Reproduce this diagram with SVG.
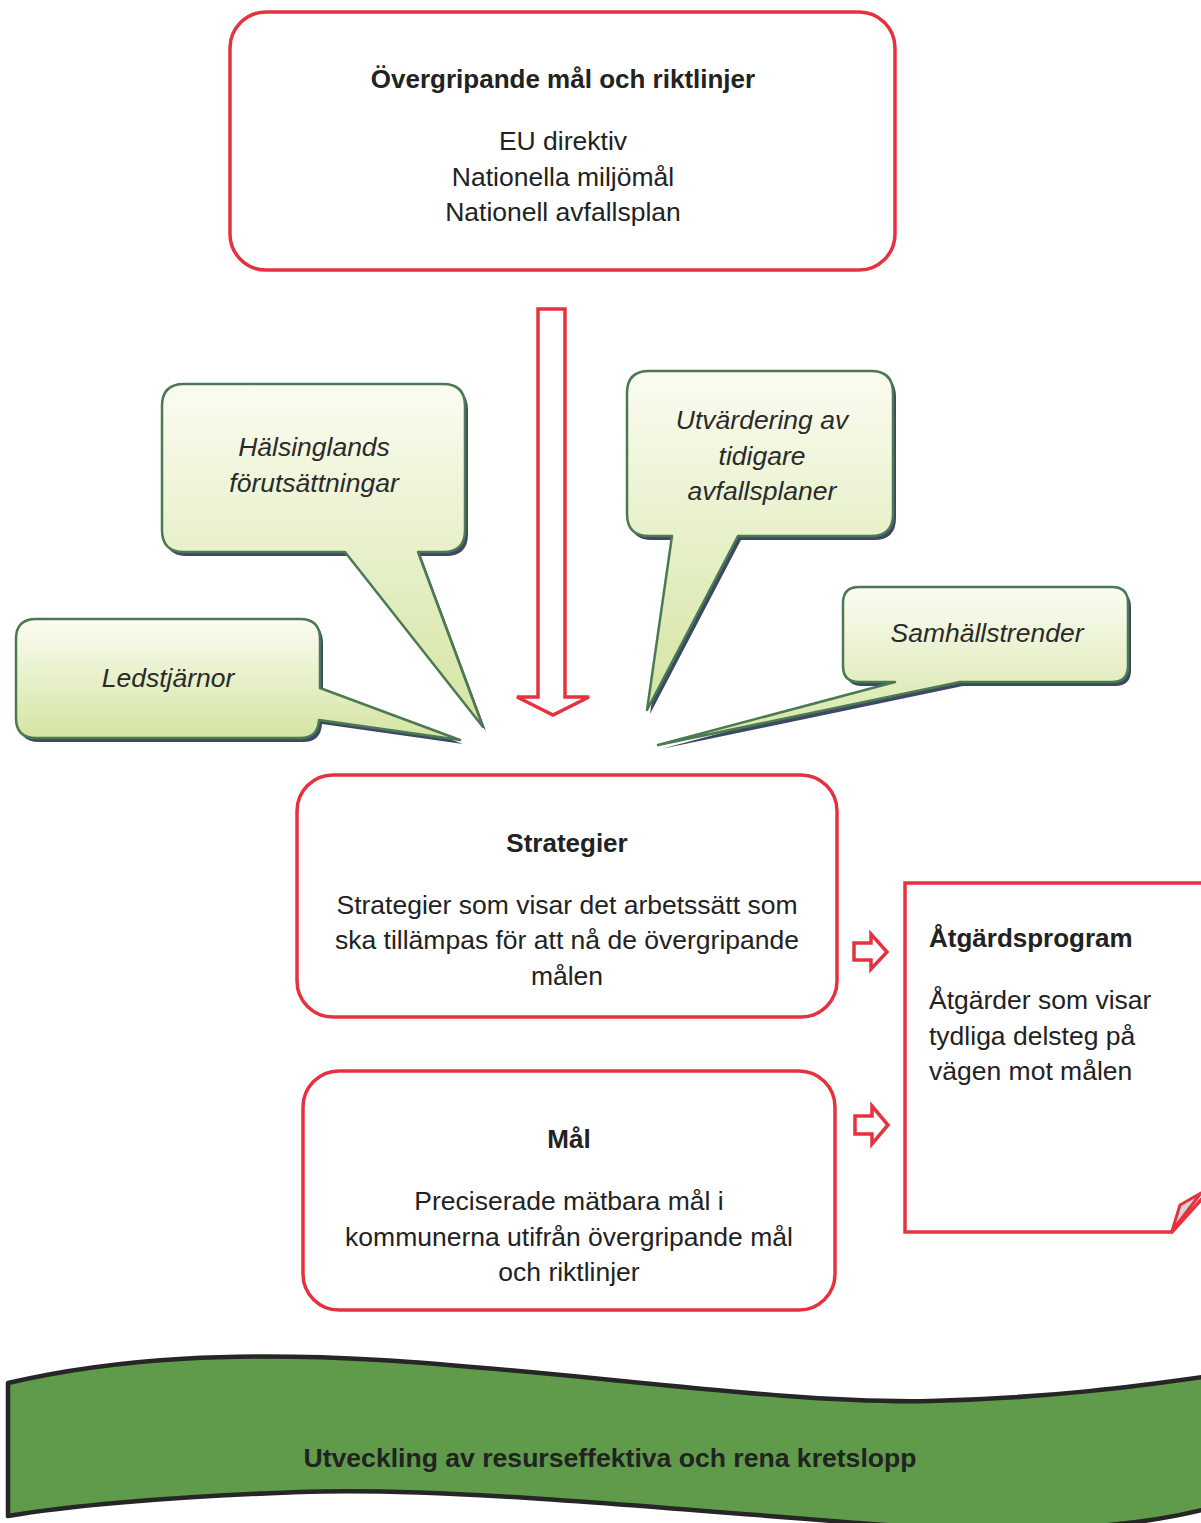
<svg xmlns="http://www.w3.org/2000/svg" width="1201" height="1523" viewBox="0 0 1201 1523">
<defs>
<linearGradient id="cg" x1="0" y1="0" x2="0" y2="1">
<stop offset="0" stop-color="#fbfcf1"/>
<stop offset="1" stop-color="#d3e4a1"/>
</linearGradient>
<style>
.red{fill:#fff;stroke:#e5323f;stroke-width:3.5}
.call{fill:url(#cg);stroke:#4b7a52;stroke-width:2.5;stroke-linejoin:round}
.sh{fill:#3d4866;stroke:none}
.t{font-family:"Liberation Sans",Arial,sans-serif;font-size:26.5px;fill:#222;text-anchor:middle}
.b{font-weight:bold;font-size:26px}
.i{font-style:italic;fill:#2a2a2a}
.l{text-anchor:start}
</style>
</defs>
<rect width="1201" height="1523" fill="#fff"/>

<g id="overgripande">
<rect class="red" x="230" y="12" width="665" height="258" rx="36"/>
<text class="t b" x="563" y="88">Övergripande mål och riktlinjer</text>
<text class="t" x="563" y="150">EU direktiv</text>
<text class="t" x="563" y="186">Nationella miljömål</text>
<text class="t" x="563" y="221">Nationell avfallsplan</text>
</g>

<g id="connectors">
<path class="red" d="M538,309 H565 V697 H589 L553,715 L517,697 H538 Z"/>
<path class="red" d="M854,943 H871 V934 L887,952 L871,969 V960 H854 Z" stroke-width="3"/>
<path class="red" d="M855,1116 H872 V1106 L888,1125 L872,1144 V1134 H855 Z" stroke-width="3"/>
</g>

<g id="halsinglands">
<path class="sh" transform="translate(3,4)" d="M184,384 H443 Q465,384 465,406 V530 Q465,552 443,552 H418 L483,727 L345,552 H184 Q162,552 162,530 V406 Q162,384 184,384 Z"/>
<path class="call" d="M184,384 H443 Q465,384 465,406 V530 Q465,552 443,552 H418 L483,727 L345,552 H184 Q162,552 162,530 V406 Q162,384 184,384 Z"/>
<text class="t i" x="314" y="456">Hälsinglands</text>
<text class="t i" x="314" y="492">förutsättningar</text>
</g>

<g id="utvardering">
<path class="sh" transform="translate(3,4)" d="M649,371 H871 Q893,371 893,393 V514 Q893,536 871,536 H738 L647,710 L672,536 H649 Q627,536 627,514 V393 Q627,371 649,371 Z"/>
<path class="call" d="M649,371 H871 Q893,371 893,393 V514 Q893,536 871,536 H738 L647,710 L672,536 H649 Q627,536 627,514 V393 Q627,371 649,371 Z"/>
<text class="t i" x="762" y="429">Utvärdering av</text>
<text class="t i" x="762" y="465">tidigare</text>
<text class="t i" x="762" y="500">avfallsplaner</text>
</g>

<g id="samhallstrender">
<path class="sh" transform="translate(3,4)" d="M859,587 H1112 Q1128,587 1128,603 V666 Q1128,682 1112,682 H960 L658,745 L895,682 H859 Q843,682 843,666 V603 Q843,587 859,587 Z"/>
<path class="call" d="M859,587 H1112 Q1128,587 1128,603 V666 Q1128,682 1112,682 H960 L658,745 L895,682 H859 Q843,682 843,666 V603 Q843,587 859,587 Z"/>
<text class="t i" x="987" y="642">Samhällstrender</text>
</g>

<g id="ledstjarnor">
<path class="sh" transform="translate(3,4)" d="M36,619 H300 Q320,619 320,639 V688 L460,740 L319,720 Q318,738 300,738 H36 Q16,738 16,718 V639 Q16,619 36,619 Z"/>
<path class="call" d="M36,619 H300 Q320,619 320,639 V688 L460,740 L319,720 Q318,738 300,738 H36 Q16,738 16,718 V639 Q16,619 36,619 Z"/>
<text class="t i" x="168" y="687">Ledstjärnor</text>
</g>

<g id="strategier">
<rect class="red" x="297" y="775" width="540" height="242" rx="36"/>
<text class="t b" x="567" y="852">Strategier</text>
<text class="t" x="567" y="914">Strategier som visar det arbetssätt som</text>
<text class="t" x="567" y="949">ska tillämpas för att nå de övergripande</text>
<text class="t" x="567" y="985">målen</text>
</g>

<g id="mal">
<rect class="red" x="303" y="1071" width="532" height="239" rx="36"/>
<text class="t b" x="569" y="1148">Mål</text>
<text class="t" x="569" y="1210">Preciserade mätbara mål i</text>
<text class="t" x="569" y="1246">kommunerna utifrån övergripande mål</text>
<text class="t" x="569" y="1281">och riktlinjer</text>
</g>

<g id="atgardsprogram">
<path class="red" d="M905,883 H1210 V1190 L1172,1232 H905 Z"/>
<path d="M1172,1231 L1180,1205 L1201,1193 Z" fill="#d6d6d6" stroke="#e5323f" stroke-width="3" stroke-linejoin="round"/>
<text class="t b l" x="929" y="947">Åtgärdsprogram</text>
<text class="t l" x="929" y="1009">Åtgärder som visar</text>
<text class="t l" x="929" y="1045">tydliga delsteg på</text>
<text class="t l" x="929" y="1080">vägen mot målen</text>
</g>

<g id="kretslopp">
<path d="M8,1383 C120,1357 240,1352 380,1360 C580,1372 780,1404 930,1401 C1050,1398 1140,1386 1210,1376 V1508 C1150,1524 1050,1536 900,1526 C700,1512 450,1486 300,1492 C160,1497 60,1507 8,1516 Z" fill="#5f9b4b" stroke="#262626" stroke-width="4.5" stroke-linejoin="round"/>
<text class="t" x="610" y="1467" font-size="24" font-weight="bold" fill="#25301c" textLength="613" lengthAdjust="spacingAndGlyphs">Utveckling av resurseffektiva och rena kretslopp</text>
</g>
</svg>
